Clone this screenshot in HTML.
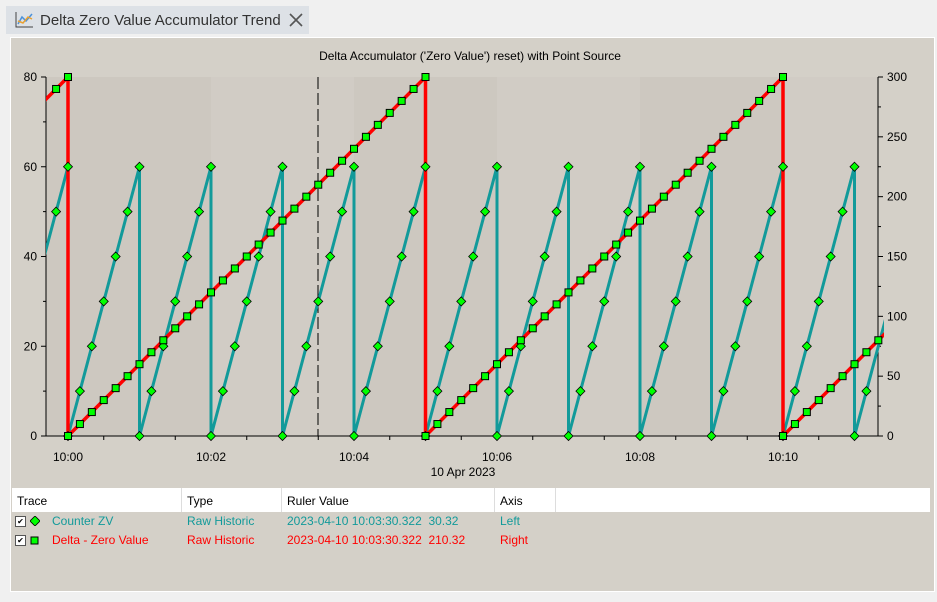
<!DOCTYPE html>
<html><head><meta charset="utf-8"><style>
body{margin:0;width:937px;height:602px;background:#f0f0f0;font-family:"Liberation Sans",sans-serif;position:relative;overflow:hidden}
.tab{position:absolute;left:6px;top:6px;width:303px;height:28px;background:#dde1e6;}
.tab span{position:absolute;left:34px;top:6px;font-size:15px;color:#333}
.panel{position:absolute;left:10px;top:37px;width:925px;height:555px;background:#d4d0c8;border:1px solid #fff;box-sizing:border-box}
.tbl{position:absolute;left:12px;top:488px;width:918px;font-size:12px}
.hdr{position:absolute;top:0;height:24px;background:#fff;width:918px}
.hdr div{position:absolute;top:6px;color:#000}
.sep{position:absolute;top:0;width:1px;height:24px;background:#ddd}
.r{position:absolute;white-space:pre}
.cb{position:absolute;width:9px;height:9px;border:1px solid #555;background:#fff;font-size:8px;line-height:9px;text-align:center}
</style></head><body>
<div class="tab"><svg style="position:absolute;left:8px;top:5px" width="20" height="18"><path d="M2 1V16H19" stroke="#444" fill="none"/><path d="M4 13L8 6L12 10L18 3" stroke="#4a90d9" stroke-width="1.5" fill="none"/><path d="M4 10L9 12L14 6L18 8" stroke="#e8a030" stroke-width="1.5" fill="none"/></svg><span>Delta Zero Value Accumulator Trend</span>
<svg style="position:absolute;left:283px;top:7px" width="14" height="14"><path d="M1 1L13 13M13 1L1 13" stroke="#555" stroke-width="1.6"/></svg></div>
<div class="panel"></div>
<svg id="c" style="position:absolute;left:0;top:0" width="937" height="602" font-family="Liberation Sans, sans-serif" font-size="12"></svg>
<div class="tbl">
<div class="hdr"><div style="left:5px">Trace</div><div style="left:175px">Type</div><div style="left:275px">Ruler Value</div><div style="left:488px">Axis</div>
<i class="sep" style="left:169px"></i><i class="sep" style="left:269px"></i><i class="sep" style="left:482px"></i><i class="sep" style="left:543px"></i></div>
<div class="cb" style="left:3px;top:28px">✔</div>
<svg style="position:absolute;left:18px;top:28px" width="10" height="10"><path d="M5 0L10 5L5 10L0 5Z" fill="#0f0" stroke="#000" stroke-width="0.8"/></svg>
<div class="r" style="left:40px;top:26px;color:#129a9a">Counter ZV</div>
<div class="r" style="left:175px;top:26px;color:#129a9a">Raw Historic</div>
<div class="r" style="left:275px;top:26px;color:#129a9a">2023-04-10 10:03:30.322  30.32</div>
<div class="r" style="left:488px;top:26px;color:#129a9a">Left</div>
<div class="cb" style="left:3px;top:47px">✔</div>
<svg style="position:absolute;left:18px;top:48px" width="10" height="10"><rect x="1" y="1" width="7" height="7" fill="#0f0" stroke="#000"/></svg>
<div class="r" style="left:40px;top:45px;color:#f00">Delta - Zero Value</div>
<div class="r" style="left:175px;top:45px;color:#f00">Raw Historic</div>
<div class="r" style="left:275px;top:45px;color:#f00">2023-04-10 10:03:30.322  210.32</div>
<div class="r" style="left:488px;top:45px;color:#f00">Right</div>
</div>
<script>
const L=46,R=878,T=77,B=436;
const X=t=>68+t*71.5/60, YL=v=>B-v*(B-T)/80, YR=v=>B-v*(B-T)/300;
let s='';
s+=`<defs><clipPath id="cp"><rect x="${L}" y="${T-6}" width="${R-L+6}" height="${B-T+12}"/></clipPath></defs>`;
let bx=[L,X(120),X(240),X(360),X(480),X(600),R];
for(let i=0;i<6;i++)s+=`<rect x="${bx[i]}" y="${T}" width="${bx[i+1]-bx[i]}" height="${B-T}" fill="${i%2?'#d1ccc5':'#cdc8c0'}"/>`;
s+=`<text x="470" y="60" text-anchor="middle">Delta Accumulator ('Zero Value') reset) with Point Source</text>`;
s+=`<path d="M${L} ${T}V${B}H${R}V${T}" stroke="#000" fill="none"/>`;
for(let v=0;v<=80;v+=10){let y=YL(v);s+=`<path d="M${L-(v%20?3:5)} ${y}H${L}" stroke="#000"/>`;if(v%20==0)s+=`<text x="${L-9}" y="${y+4}" text-anchor="end">${v}</text>`;}
for(let v=0;v<=300;v+=25){let y=YR(v);s+=`<path d="M${R} ${y}H${R+(v%50?3:5)}" stroke="#000"/>`;if(v%50==0)s+=`<text x="${R+9}" y="${y+4}">${v}</text>`;}
for(let t=0;t<=660;t+=30){let x=X(t);s+=`<path d="M${x} ${B}V${B+4}" stroke="#000"/>`;if(t%120==0)s+=`<text x="${x}" y="${B+25}" text-anchor="middle">10:${String(t/60).padStart(2,'0')}</text>`;}
s+=`<text x="463" y="476" text-anchor="middle">10 Apr 2023</text>`;
s+=`<path d="M318 ${T}V${B}" stroke="#000" stroke-dasharray="12,4"/>`;
let p=[],dm=[];
for(let k=-1;k<=11;k++){let a=60*k;p.push(`${X(a)},${YL(0)}`,`${X(a+60)},${YL(60)}`,`${X(a+60)},${YL(0)}`);for(let j=0;j<=6;j++){let t=a+10*j;if(t>=-10&&t<=670)dm.push([X(t),YL(j*10)]);}}
let rp=[],sq=[];
for(let k=-1;k<=2;k++){let a=300*k;rp.push(`${X(a)},${YR(0)}`,`${X(a+300)},${YR(300)}`,`${X(a+300)},${YR(0)}`);for(let j=0;j<=30;j++){let t=a+10*j;if(t>=-10&&t<=680)sq.push([X(t),YR(j*10)]);}}
s+=`<g clip-path="url(#cp)"><polyline points="${p.join(' ')}" fill="none" stroke="#129a9a" stroke-width="3"/><polyline points="${rp.join(' ')}" fill="none" stroke="#f00" stroke-width="3.5"/></g>`;
let seen={};
dm.forEach(([x,y])=>{let k=x.toFixed(1)+','+y.toFixed(1);if(seen[k])return;seen[k]=1;s+=`<path d="M${x} ${y-4.5}L${x+4.5} ${y}L${x} ${y+4.5}L${x-4.5} ${y}Z" fill="#0f0" stroke="#000" stroke-width="0.8"/>`;});
sq.forEach(([x,y])=>{s+=`<rect x="${x-3.5}" y="${y-3.5}" width="7" height="7" fill="#0f0" stroke="#000"/>`;});
document.getElementById('c').innerHTML=s;
</script>
</body></html>
